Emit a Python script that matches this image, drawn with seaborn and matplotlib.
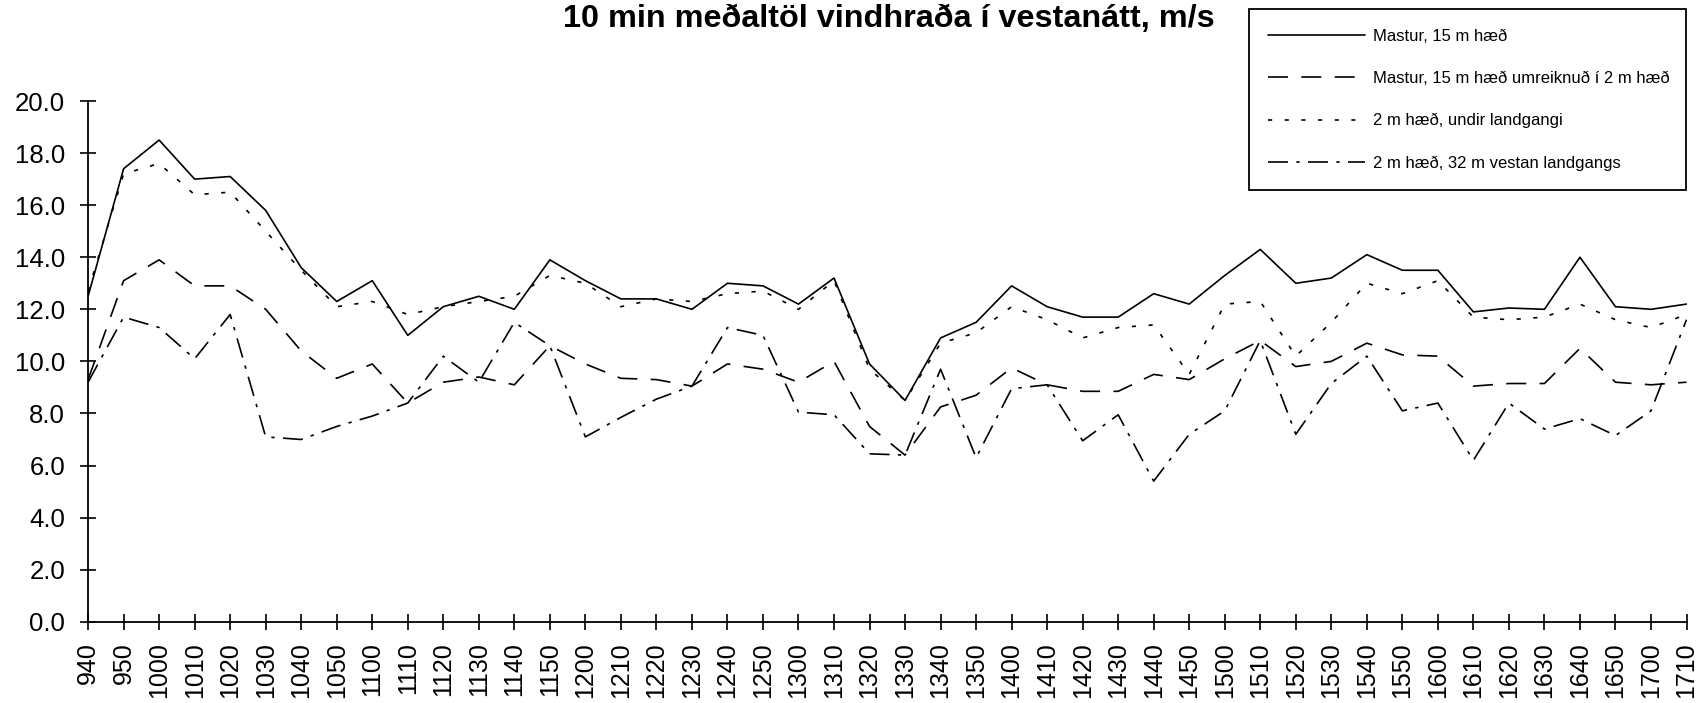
import numpy as np
import pandas as pd
import seaborn as sns
import matplotlib.pyplot as plt
from matplotlib.patches import Rectangle

sns.set_style("ticks")
plt.rcParams['font.family'] = ['Liberation Sans', 'DejaVu Sans']
plt.rcParams['text.color'] = 'black'
plt.rcParams['xtick.color'] = 'black'
plt.rcParams['ytick.color'] = 'black'

# time of day (hhmm), 10 min steps
times = ['940', '950', '1000', '1010', '1020', '1030', '1040', '1050',
         '1100', '1110', '1120', '1130', '1140', '1150',
         '1200', '1210', '1220', '1230', '1240', '1250',
         '1300', '1310', '1320', '1330', '1340', '1350',
         '1400', '1410', '1420', '1430', '1440', '1450',
         '1500', '1510', '1520', '1530', '1540', '1550',
         '1600', '1610', '1620', '1630', '1640', '1650',
         '1700', '1710']

mastur = [12.5, 17.4, 18.5, 17.0, 17.1, 15.8, 13.6, 12.3,
          13.1, 11.0, 12.1, 12.5, 12.0, 13.9,
          13.1, 12.4, 12.4, 12.0, 13.0, 12.9,
          12.2, 13.2, 9.9, 8.5, 10.9, 11.5,
          12.9, 12.1, 11.7, 11.7, 12.6, 12.2,
          13.3, 14.3, 13.0, 13.2, 14.1, 13.5,
          13.5, 11.9, 12.05, 12.0, 14.0, 12.1,
          12.0, 12.2]

umreiknud = [9.3, 13.1, 13.9, 12.9, 12.9, 12.0, 10.4, 9.35,
             9.9, 8.4, 9.2, 9.4, 9.1, 10.6,
             9.9, 9.35, 9.3, 9.05, 9.9, 9.7,
             9.2, 10.0, 7.5, 6.4, 8.25, 8.7,
             9.75, 9.1, 8.85, 8.85, 9.5, 9.3,
             10.1, 10.8, 9.8, 10.0, 10.7, 10.25,
             10.2, 9.05, 9.15, 9.15, 10.5, 9.2,
             9.1, 9.2]

undir = [12.7, 17.2, 17.6, 16.4, 16.5, 15.0, 13.5, 12.1,
         12.3, 11.8, 12.1, 12.3, 12.5, 13.3,
         13.0, 12.1, 12.4, 12.3, 12.6, 12.7,
         12.0, 13.1, 9.7, 8.5, 10.7, 11.1,
         12.1, 11.6, 10.9, 11.3, 11.4, 9.5,
         12.2, 12.3, 10.2, 11.5, 13.0, 12.6,
         13.1, 11.7, 11.6, 11.7, 12.2, 11.6,
         11.3, 11.8]

vestan = [9.2, 11.7, 11.3, 10.1, 11.8, 7.1, 7.0, 7.5,
          7.9, 8.4, 10.2, 9.2, 11.5, 10.6,
          7.1, 7.85, 8.55, 9.05, 11.3, 11.0,
          8.05, 7.95, 6.45, 6.4, 9.7, 6.3,
          8.95, 9.1, 6.95, 7.95, 5.4, 7.2,
          8.1, 10.8, 7.2, 9.15, 10.2, 8.1,
          8.4, 6.2, 8.4, 7.4, 7.8, 7.15,
          8.1, 11.6]

labels = ["Mastur, 15 m hæð",
          "Mastur, 15 m hæð umreiknuð í 2 m hæð",
          "2 m hæð, undir landgangi",
          "2 m hæð, 32 m vestan landgangs"]

frames = []
for lab, vals in zip(labels, [mastur, umreiknud, undir, vestan]):
    frames.append(pd.DataFrame({"pos": np.arange(len(times)), "val": vals, "series": lab}))
df = pd.concat(frames, ignore_index=True)

dashes = {labels[0]: "", labels[1]: (12, 8), labels[2]: (2.5, 7.5), labels[3]: (12, 5, 2, 5)}
palette = {lab: "black" for lab in labels}

fig = plt.figure(figsize=(17.07, 7.03), dpi=100)
ax = fig.add_axes([0.0516, 0.1156, 0.9364, 0.7407])

sns.lineplot(data=df, x="pos", y="val", hue="series", style="series",
             palette=palette, dashes=dashes, sort=False, linewidth=1.2,
             legend=False, ax=ax)

ax.set_xlim(0, len(times) - 1)
ax.set_ylim(0, 20)
ax.set_xticks(np.arange(len(times)))
ax.set_xticklabels(times, rotation=90)
ax.set_yticks(np.arange(0, 21, 2))
ax.set_yticklabels([f"{v:.1f}" for v in np.arange(0, 21, 2)])
ax.tick_params(direction="inout", length=11, width=1.2, labelsize=18.5, pad=11)
ax.tick_params(axis="x", labelsize=18, pad=9.5)
ax.set_xlabel("")
ax.set_ylabel("")
sns.despine(ax=ax)
for s in ["left", "bottom"]:
    ax.spines[s].set_linewidth(1.3)
    ax.spines[s].set_color("black")

fig.text(0.5205, 1 - 27 / 703, "10 min meðaltöl vindhraða í vestanátt, m/s",
         ha="center", va="baseline", fontsize=23.3, fontweight="bold")

# legend box
fig.patches.append(Rectangle((0.7317, 0.7297), 0.256, 0.2575, transform=fig.transFigure,
                             fill=False, edgecolor="black", linewidth=1.3))
leg = fig.legend(ax.lines[:4], labels, loc="center left",
                 bbox_to_anchor=(1268 / 1707, 1 - 100 / 703), fontsize=12,
                 handlelength=5.8, handletextpad=0.5, labelspacing=1.62,
                 borderpad=0, borderaxespad=0, frameon=False)

fig.savefig("out.png", dpi=100)
